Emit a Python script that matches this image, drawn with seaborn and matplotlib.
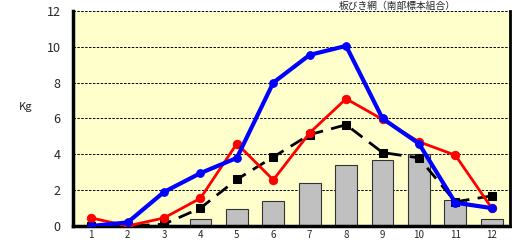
import matplotlib
matplotlib.use("Agg")
import matplotlib.pyplot as plt
import seaborn as sns
import pandas as pd

# data
months = [str(m) for m in range(1, 13)]
bar_vals = [0.0, 0.0, 0.05, 0.38, 0.95, 1.4, 2.4, 3.4, 3.7, 4.0, 1.45, 0.38]
blue_vals = [0.0, 0.2, 1.9, 2.95, 3.8, 8.0, 9.55, 10.05, 6.0, 4.6, 1.3, 1.0]
red_vals = [0.45, 0.0, 0.45, 1.55, 4.6, 2.57, 5.2, 7.1, 5.95, 4.7, 3.95, 1.0]
black_vals = [0.0, 0.0, 0.1, 1.0, 2.6, 3.85, 5.1, 5.65, 4.1, 3.8, 1.35, 1.68]
title = "板びき網（南部標本組合）"

sns.set_style("white")
plt.rcParams["font.family"] = ["Noto Sans CJK JP", "DejaVu Sans"]

df = pd.DataFrame({"month": months, "bar": bar_vals, "blue": blue_vals,
                   "red": red_vals, "black": black_vals})
df["x"] = range(len(months))

fig = plt.figure(figsize=(5.12, 2.44), dpi=100)
ax = fig.add_axes([0.1426, 0.0738, 0.8534, 0.8812])
ax.set_facecolor("#FFFFCC")

sns.barplot(data=df, x="month", y="bar", color="#C0C0C0", edgecolor="#333333",
            linewidth=0.8, width=0.6, saturation=1, ax=ax, zorder=2)

sns.lineplot(data=df, x="x", y="black", color="black", linewidth=2,
             linestyle=(0, (5, 3)), marker="s", markersize=5.5,
             markeredgecolor="black", ax=ax, zorder=3)
sns.lineplot(data=df, x="x", y="red", color="#FF0000", linewidth=2,
             marker="o", markersize=6, markeredgecolor="#FF0000", ax=ax, zorder=4)
sns.lineplot(data=df, x="x", y="blue", color="#0000FF", linewidth=3,
             marker="o", markersize=5.5, markeredgecolor="#0000FF", ax=ax, zorder=5)

ax.set_xlim(-0.5, 11.5)
ax.set_ylim(0, 12)
ax.set_yticks(range(0, 13, 2))
ax.set_xticks(range(12))
ax.set_xticklabels(months, fontsize=7)
ax.tick_params(axis="y", labelsize=9, length=0, pad=9)
ax.tick_params(axis="x", length=0, pad=3)
ax.set_xlabel("")
ax.set_ylabel("")
for y in range(2, 13, 2):
    ax.axhline(y, color="black", linestyle=(0, (2.5, 1.5)), linewidth=0.7, zorder=1)

for side in ["left", "bottom"]:
    ax.spines[side].set_linewidth(2.5)
    ax.spines[side].set_color("black")
ax.spines["right"].set_linewidth(2)
ax.spines["right"].set_color("black")
ax.spines["top"].set_visible(False)

fig.text(0.05, 0.56, "Kg", fontsize=8, ha="center", va="center")
fig.text(0.775, 0.998, title, fontsize=7, ha="center", va="top")

fig.savefig("out.png", dpi=100)
